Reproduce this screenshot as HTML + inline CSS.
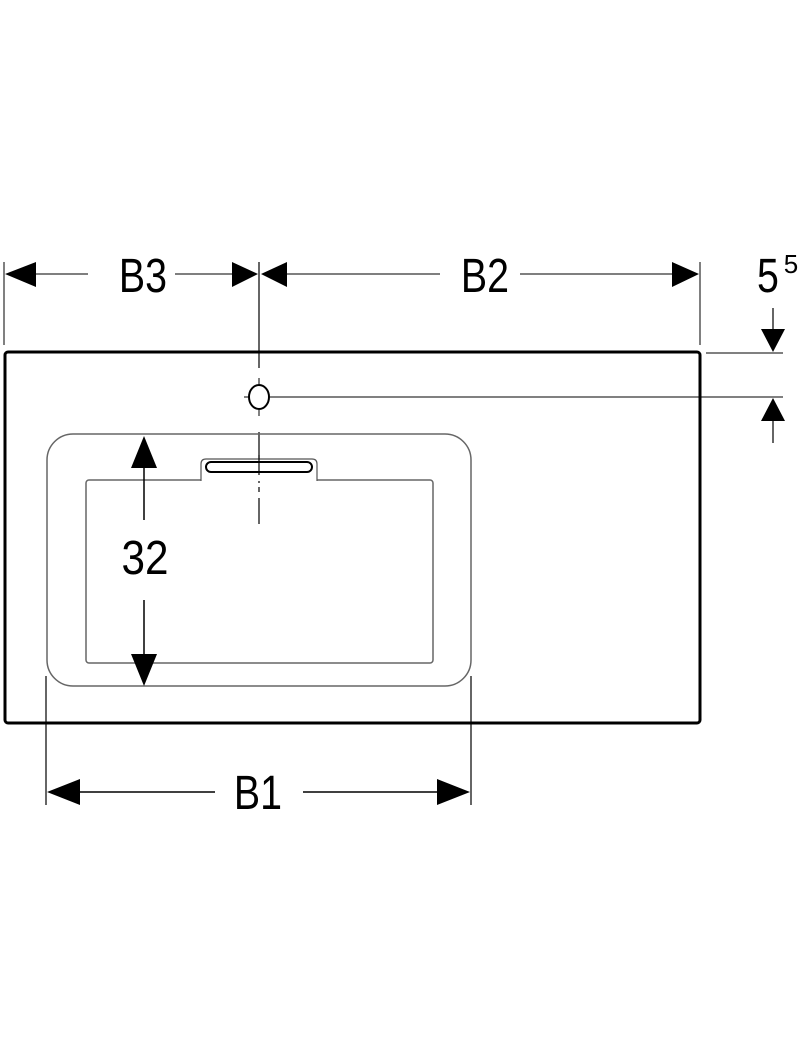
<!DOCTYPE html>
<html><head><style>body{margin:0;background:#fff}svg{display:block}</style></head><body>
<svg width="800" height="1058" viewBox="0 0 800 1058" xmlns="http://www.w3.org/2000/svg">
<g stroke="#000" fill="none">
<rect x="5" y="352" width="695" height="371" rx="3" stroke-width="3"/>
<line x1="4" y1="262" x2="4" y2="345" stroke-width="1"/>
<line x1="700" y1="262" x2="700" y2="345" stroke-width="1"/>
<line x1="259" y1="262" x2="259" y2="368" stroke-width="1.2"/>
<line x1="20" y1="274" x2="88" y2="274" stroke="#555" stroke-width="1.5"/>
<line x1="175" y1="274" x2="240" y2="274" stroke="#555" stroke-width="1.5"/>
<line x1="278" y1="274" x2="440" y2="274" stroke="#555" stroke-width="1.5"/>
<line x1="520" y1="274" x2="680" y2="274" stroke="#555" stroke-width="1.5"/>
<line x1="706" y1="353" x2="783" y2="353" stroke-width="1"/>
<line x1="270" y1="397" x2="783" y2="397" stroke-width="1"/>
<line x1="773" y1="308" x2="773" y2="335" stroke-width="1.2"/>
<line x1="773" y1="415" x2="773" y2="443" stroke-width="1.2"/>
<ellipse cx="259" cy="397" rx="10" ry="12" stroke-width="2"/>
<line x1="244" y1="397" x2="250" y2="397" stroke-width="1"/>
<line x1="259" y1="378" x2="259" y2="384" stroke-width="1"/>
<line x1="259" y1="410" x2="259" y2="416" stroke-width="1"/>
<line x1="259" y1="432" x2="259" y2="483" stroke-width="1.2"/>
<line x1="259" y1="487" x2="259" y2="492" stroke-width="1.2"/>
<line x1="259" y1="498" x2="259" y2="524" stroke-width="1.2"/>
<rect x="47" y="434" width="424" height="252" rx="26" stroke="#666" stroke-width="1.5"/>
<rect x="86" y="480" width="347" height="183" rx="3" stroke="#666" stroke-width="1.5"/>
<path d="M201 481 V464 Q201 459 206 459 H312 Q317 459 317 464 V481" stroke="#555" stroke-width="1.2" fill="#fff"/>
<rect x="206" y="462" width="106" height="10" rx="5" stroke-width="2"/>
<line x1="259" y1="455" x2="259" y2="475" stroke-width="1.2"/>
<line x1="144" y1="460" x2="144" y2="520" stroke-width="1.5"/>
<line x1="144" y1="600" x2="144" y2="660" stroke-width="1.5"/>
<line x1="46" y1="676" x2="46" y2="805" stroke-width="1.2"/>
<line x1="471" y1="676" x2="471" y2="805" stroke-width="1.2"/>
<line x1="70" y1="792" x2="215" y2="792" stroke-width="1.5"/>
<line x1="303" y1="792" x2="445" y2="792" stroke-width="1.5"/>
</g>
<g fill="#000">
<polygon points="5,274 36,262 36,287"/>
<polygon points="258,274 232,262 232,287"/>
<polygon points="261,274 287,262 287,287"/>
<polygon points="699,274 672,262 672,287"/>
<polygon points="773,352 761,329 785,329"/>
<polygon points="773,398 761,421 785,421"/>
<polygon points="144,436 131,468 157,468"/>
<polygon points="144,686 131,654 157,654"/>
<polygon points="47,792 80,779 80,805"/>
<polygon points="470,792 437,779 437,805"/>
</g>
<g font-family="Liberation Sans, sans-serif" font-size="48" fill="#000" text-anchor="middle">
<text x="143" y="292" transform="translate(143,0) scale(0.82,1) translate(-143,0)">B3</text>
<text x="485" y="292" transform="translate(485,0) scale(0.82,1) translate(-485,0)">B2</text>
<text x="145" y="574" transform="translate(145,0) scale(0.88,1) translate(-145,0)">32</text>
<text x="258" y="809" transform="translate(258,0) scale(0.82,1) translate(-258,0)">B1</text>
<text x="768" y="292" transform="translate(768,0) scale(0.82,1) translate(-768,0)">5</text>
<text x="791" y="273" font-size="26">5</text>
</g>
</svg>
</body></html>
